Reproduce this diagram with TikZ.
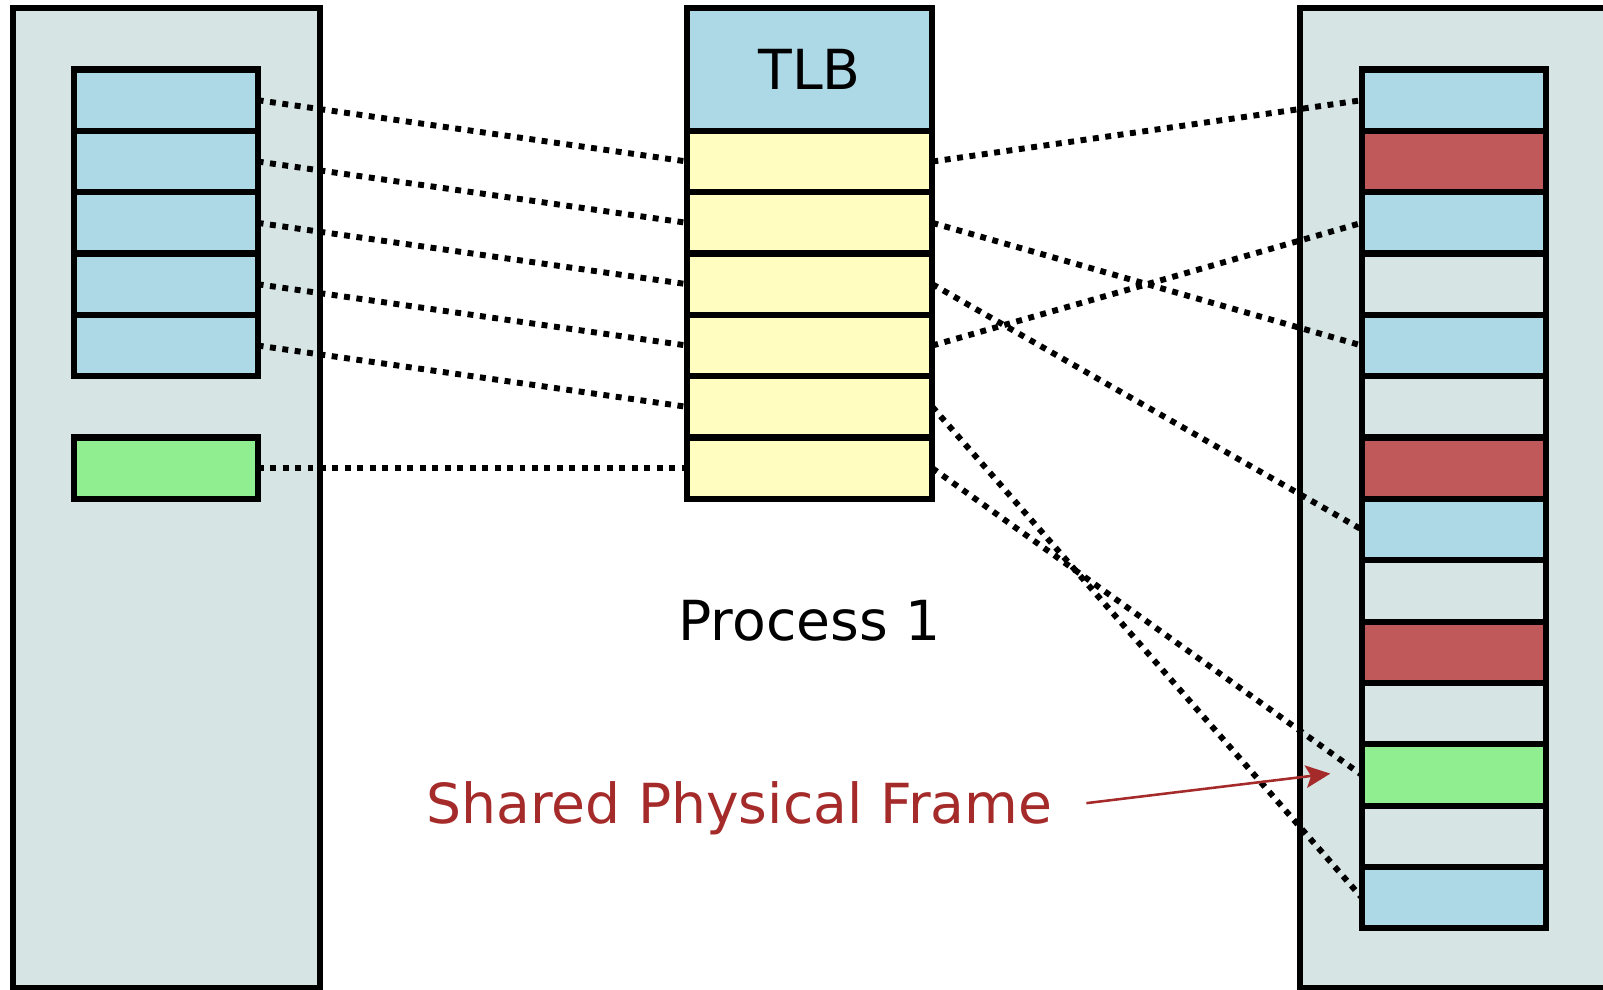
\documentclass[tikz,border=0pt]{standalone}
\usepackage{fontspec}
\setmainfont{DejaVu Sans}
\usetikzlibrary{arrows.meta,positioning}

\definecolor{panelgray}{RGB}{214,228,228}
\definecolor{pageblue}{RGB}{173,216,230}
\definecolor{pagered}{RGB}{192,90,90}
\definecolor{pagegreen}{RGB}{144,238,144}
\definecolor{tlbyellow}{RGB}{255,253,191}
\definecolor{notered}{RGB}{165,42,42}

\begin{document}
\begin{tikzpicture}[
  x=0.5pt, y=-0.5pt,
  font=\fontsize{27}{32}\selectfont,
  line width=3pt,
  panel/.style={draw,fill=panelgray},
  cell/.style={draw,outer sep=0pt,inner sep=0pt,minimum width=90pt,minimum height=30pt},
  tlbhead/.style={cell,minimum width=120pt,minimum height=60pt,fill=pageblue},
  tlbrow/.style={cell,minimum width=120pt,fill=tlbyellow},
  mapflow/.style={line width=2.9pt,dash pattern=on 2.9pt off 3.2pt},
  noteflow/.style={-{Stealth[length=12pt,width=11pt,inset=2.5pt]},line width=1.25pt,draw=notered}
]

\useasboundingbox (0,0) rectangle (1568,968);
\clip (0,0) rectangle (1568,968);

% ===== Memory Panels =====
\draw[panel] (12.7,7.8) rectangle (313,966.5);
\draw[panel] (1272,7.8) rectangle (1640,966.5);

% ===== Virtual Pages =====
\node[cell,fill=pageblue] (v1) at (162,98) {};
\node[cell,fill=pageblue,below=0pt of v1] (v2) {};
\node[cell,fill=pageblue,below=0pt of v2] (v3) {};
\node[cell,fill=pageblue,below=0pt of v3] (v4) {};
\node[cell,fill=pageblue,below=0pt of v4] (v5) {};
\node[cell,fill=pagegreen,below=30pt of v5] (vg) {};

% ===== TLB =====
\node[tlbhead] (tlb) at (792,68) {TLB};
\node[tlbrow,below=0pt of tlb] (t1) {};
\node[tlbrow,below=0pt of t1] (t2) {};
\node[tlbrow,below=0pt of t2] (t3) {};
\node[tlbrow,below=0pt of t3] (t4) {};
\node[tlbrow,below=0pt of t4] (t5) {};
\node[tlbrow,below=0pt of t5] (t6) {};

% ===== Physical Frames =====
\node[cell,fill=pageblue] (p1) at (1422,98) {};
\node[cell,fill=pagered,below=0pt of p1] (p2) {};
\node[cell,fill=pageblue,below=0pt of p2] (p3) {};
\node[cell,fill=panelgray,below=0pt of p3] (p4) {};
\node[cell,fill=pageblue,below=0pt of p4] (p5) {};
\node[cell,fill=panelgray,below=0pt of p5] (p6) {};
\node[cell,fill=pagered,below=0pt of p6] (p7) {};
\node[cell,fill=pageblue,below=0pt of p7] (p8) {};
\node[cell,fill=panelgray,below=0pt of p8] (p9) {};
\node[cell,fill=pagered,below=0pt of p9] (p10) {};
\node[cell,fill=panelgray,below=0pt of p10] (p11) {};
\node[cell,fill=pagegreen,below=0pt of p11] (p12) {};
\node[cell,fill=panelgray,below=0pt of p12] (p13) {};
\node[cell,fill=pageblue,below=0pt of p13] (p14) {};

% ===== Labels =====
\node (proc) at (792,607) {Process 1};
\node[text=notered,anchor=base,text depth=0pt] (shared) at (723,806) {Shared Physical Frame};

% ===== Page -> TLB =====
\draw[mapflow] (v1.east) -- (t1.west);
\draw[mapflow] (v2.east) -- (t2.west);
\draw[mapflow] (v3.east) -- (t3.west);
\draw[mapflow] (v4.east) -- (t4.west);
\draw[mapflow] (v5.east) -- (t5.west);
\draw[mapflow] (vg.east) -- (t6.west);

% ===== TLB -> Frame =====
\draw[mapflow] (t1.east) -- (p1.west);
\draw[mapflow] (t2.east) -- (p5.west);
\draw[mapflow] (t3.east) -- (p8.west);
\draw[mapflow] (t4.east) -- (p3.west);
\draw[mapflow] (t5.east) -- (p14.west);
\draw[mapflow] (t6.east) -- (p12.west);

% ===== Note =====
\draw[noteflow,shorten <=12pt,shorten >=15.5pt] ([yshift=-1.5pt]shared.east) -- ([yshift=2.5pt]p12.west);

\end{tikzpicture}
\end{document}
